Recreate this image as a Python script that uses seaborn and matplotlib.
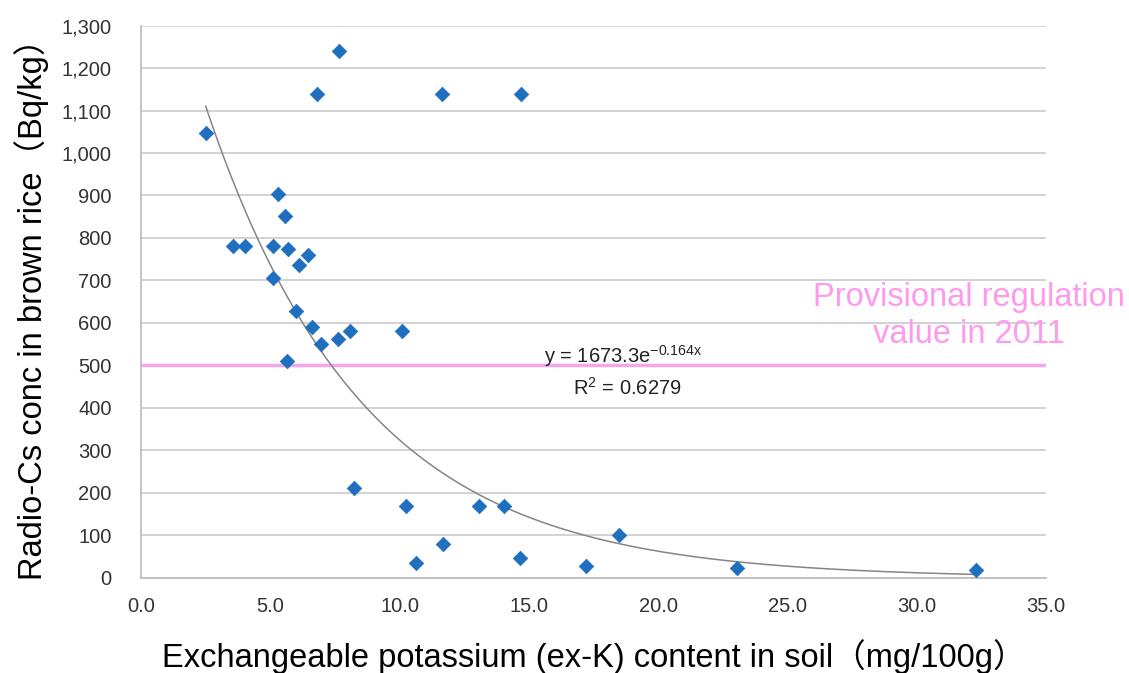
import numpy as np
import pandas as pd
import matplotlib
matplotlib.use("Agg")
import matplotlib.pyplot as plt
import seaborn as sns
from matplotlib.ticker import FuncFormatter, MultipleLocator

# Data
ex_k = [7.67, 6.80, 11.64, 14.68, 2.50, 5.29, 5.55, 3.57, 4.04, 5.10, 5.68, 6.45,
        6.12, 5.12, 6.01, 6.63, 6.97, 7.61, 8.10, 10.08, 5.64, 8.23, 10.25, 13.06,
        14.05, 11.67, 10.65, 14.65, 17.20, 18.48, 23.04, 32.30]
cs_conc = [1240, 1140, 1140, 1140, 1048, 903, 852, 780, 780, 780, 775, 761,
           736, 706, 629, 590, 551, 562, 580, 580, 511, 212, 169, 169,
           169, 80, 35, 46, 27, 101, 23, 19]
fit_a = 1673.3
fit_b = -0.164
fit_r2 = 0.6279
regulation_value = 500

x_label = "Exchangeable potassium (ex-K) content in soil（mg/100g）"
y_label = "Radio-Cs conc in brown rice（Bq/kg）"
reg_label = "Provisional regulation\nvalue in 2011"

df = pd.DataFrame({"exK": ex_k, "cs": cs_conc})

sns.set_style("white")
plt.rcParams['font.family'] = ['Liberation Sans', 'Noto Sans CJK JP', 'DejaVu Sans']

fig = plt.figure(figsize=(11.29, 6.73), dpi=100)
ax = fig.add_axes([0.1249, 0.1412, 0.8016, 0.8209])

# regulation line
ax.axhline(regulation_value, xmin=0, xmax=1, color="#f4a6ee", lw=2.5, zorder=2)

# trend line
xf = np.linspace(min(ex_k), max(ex_k), 300)
sns.lineplot(x=xf, y=fit_a * np.exp(fit_b * xf), ax=ax, color="#858585", lw=1.1, zorder=3)

sns.scatterplot(data=df, x="exK", y="cs", ax=ax, marker="D", s=55,
                color="#1f6fbf", edgecolor="#1f6fbf", linewidth=0.5, zorder=4)

ax.set_xlim(0, 35)
ax.set_ylim(0, 1300)
ax.xaxis.set_major_locator(MultipleLocator(5))
ax.yaxis.set_major_locator(MultipleLocator(100))
ax.xaxis.set_major_formatter(FuncFormatter(lambda v, p: f"{v:.1f}"))
ax.yaxis.set_major_formatter(FuncFormatter(lambda v, p: f"{int(v):,}"))

ax.grid(axis="y", color="#cfcfcf", lw=1.3)
ax.grid(axis="x", visible=False)
ax.set_axisbelow(True)
for s in ["top", "right"]:
    ax.spines[s].set_visible(False)
for s in ["left", "bottom"]:
    ax.spines[s].set_color("#bfbfbf")
    ax.spines[s].set_linewidth(1.3)
ax.tick_params(axis="both", which="major", direction="out", length=5, width=1,
               color="#bfbfbf", labelsize=14.5, labelcolor="#333333")
ax.tick_params(axis="y", pad=16)
ax.tick_params(axis="x", pad=9)

ax.set_xlabel(x_label, fontsize=23.5, labelpad=16, color="black")
ax.set_ylabel(y_label, fontsize=23.5, labelpad=9, color="black")

ax.text(969 / 1129, 1 - 316 / 673, reg_label, transform=fig.transFigure,
        ha="center", va="center", fontsize=23.5, color="#ff99ee", linespacing=1.25)

ax.text(15.6, 522, r"y = 1673.3e$^{\mathregular{-0.164x}}$", fontsize=14.5,
        ha="left", va="center", color="#222222")
ax.text(16.7, 447, r"R$^{\mathregular{2}}$ = 0.6279", fontsize=14.5,
        ha="left", va="center", color="#222222")

fig.savefig("out.png", dpi=100)
